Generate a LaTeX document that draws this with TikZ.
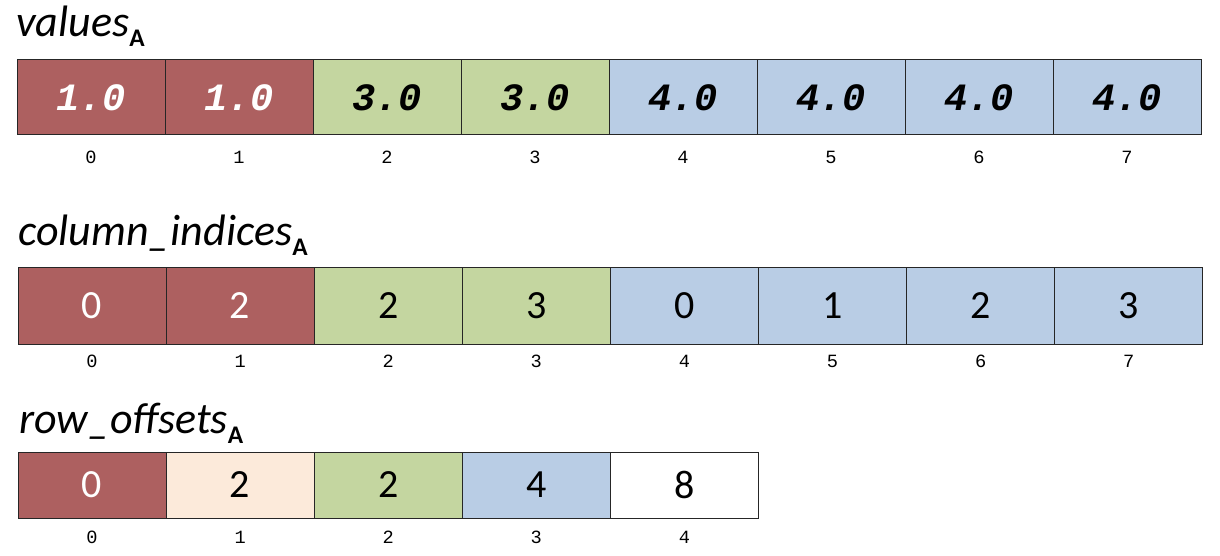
\documentclass[tikz,border=0pt]{standalone}
\usepackage{fontspec}
\setmainfont{Carlito}
\newfontfamily\monofont{Liberation Mono}
\usepackage{tikz}

\definecolor{csrred}{HTML}{AD6060}
\definecolor{csrgreen}{HTML}{C4D6A0}
\definecolor{csrblue}{HTML}{B9CDE5}
\definecolor{csrpeach}{HTML}{FCEADA}

\newcommand{\arrtitle}[1]{\fontsize{33}{38}\selectfont\itshape #1\raisebox{-7.5pt}{\upshape\bfseries\fontsize{19}{21}\selectfont A}}

\begin{document}
\begin{tikzpicture}[x=0.75pt, y=-0.75pt,
    cell/.style={draw=black!85, line width=0.75pt, rectangle, inner sep=0pt,
                 minimum width=111pt},
    valtext/.style={font=\fontsize{29}{29}\selectfont\monofont\bfseries\itshape},
    numtext/.style={font=\fontsize{30}{30}\selectfont},
    idx/.style={font=\fontsize{14}{14}\selectfont\monofont, inner sep=0pt},
    arrname/.style={anchor=base west, inner sep=0pt}]
    \useasboundingbox (0,0) rectangle (1220,556);

    % values
    \node [arrname] (tvalues) at (16,37) {\arrtitle{values}};
    \foreach \v/\f/\t [count=\i from 0] in {1.0/csrred/white, 1.0/csrred/white,
        3.0/csrgreen/black, 3.0/csrgreen/black, 4.0/csrblue/black,
        4.0/csrblue/black, 4.0/csrblue/black, 4.0/csrblue/black} {
      \node [cell, valtext, minimum height=56.25pt, fill=\f, text=\t]
        (v\i) at ({91+148*\i},97.5) {\v};
      \node [idx] (vi\i) at ({91+148*\i},157) {\i};
    }

    % column indices
    \node [arrname] (tcols) at (18,245) {\arrtitle{column\_indices}};
    \foreach \v/\f/\t [count=\i from 0] in {0/csrred/white, 2/csrred/white,
        2/csrgreen/black, 3/csrgreen/black, 0/csrblue/black,
        1/csrblue/black, 2/csrblue/black, 3/csrblue/black} {
      \node [cell, numtext, minimum height=57.75pt, fill=\f, text=\t]
        (c\i) at ({92+148.1*\i},305.5) {\v};
      \node [idx] (ci\i) at ({92+148.1*\i},361) {\i};
    }

    % row offsets
    \node [arrname] (toffsets) at (19,433) {\arrtitle{row\_offsets}};
    \foreach \v/\f/\t [count=\i from 0] in {0/csrred/white, 2/csrpeach/black,
        2/csrgreen/black, 4/csrblue/black, 8/white/black} {
      \node [cell, numtext, minimum height=49.5pt, fill=\f, text=\t]
        (r\i) at ({92+148.1*\i},485) {\v};
      \node [idx] (ri\i) at ({92+148.1*\i},537) {\i};
    }
\end{tikzpicture}
\end{document}
